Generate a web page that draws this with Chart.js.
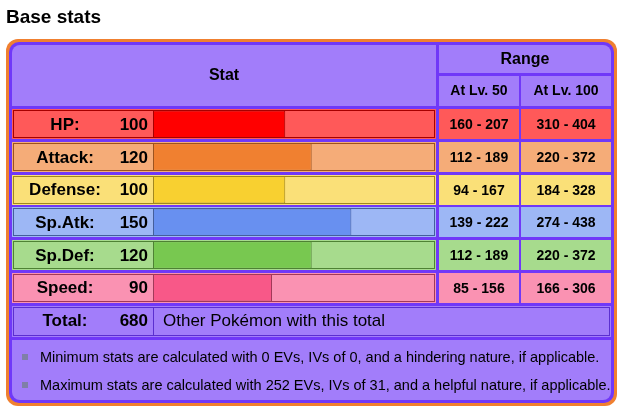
<!DOCTYPE html>
<html lang="en">
<head>
<meta charset="UTF-8">
<title>Base stats</title>
<style>
  html, body { margin: 0; padding: 0; background: #fff; }
  canvas { display: block; }
</style>
</head>
<body>
<canvas id="statChart" width="633" height="412"></canvas>

<script src="https://cdn.jsdelivr.net/npm/chart.js"></script>
<script>
const statNames = ['HP:', 'Attack:', 'Defense:', 'Sp.Atk:', 'Sp.Def:', 'Speed:'];
const statValues = [100, 120, 100, 150, 120, 90];
const lv50Ranges = ['160 - 207', '112 - 189', '94 - 167', '139 - 222', '112 - 189', '85 - 156'];
const lv100Ranges = ['310 - 404', '220 - 372', '184 - 328', '274 - 438', '220 - 372', '166 - 306'];
const totalValue = 680;
const notes = [
  'Minimum stats are calculated with 0 EVs, IVs of 0, and a hindering nature, if applicable.',
  'Maximum stats are calculated with 252 EVs, IVs of 31, and a helpful nature, if applicable.'
];

// colours
const barColors = ['#FF0000', '#F08030', '#F8D030', '#6890F0', '#78C850', '#F85888'];
const rowColors = ['#FF5959', '#F5AC78', '#FAE078', '#9DB7F5', '#A7DB8D', '#FA92B2'];
const darkColors = ['#A60000', '#9C531F', '#A1871F', '#445E9C', '#4E8234', '#A13959'];
const purple = '#A27DFA';
const purpleDark = '#7038F8';
const orange = '#F08030';
const FONT = '"Liberation Sans", Arial, Helvetica, sans-serif';

function txt(ctx, s, x, y, size, bold, align) {
  ctx.font = (bold ? 'bold ' : '') + size + 'px ' + FONT;
  ctx.textAlign = align || 'center';
  ctx.textBaseline = 'middle';
  ctx.fillStyle = '#000';
  ctx.fillText(s, x, y);
}

function box(ctx, x, y, w, h, fill, radii) {
  ctx.beginPath();
  ctx.roundRect(x, y, w, h, radii || 0);
  ctx.fillStyle = fill;
  ctx.fill();
}

const tablePlugin = {
  id: 'tablePlugin',
  beforeDraw(chart) {
    const ctx = chart.ctx;
    const yScale = chart.scales.y;
    ctx.save();

    txt(ctx, 'Base stats', 6, 18, 19, true, 'left');

    // frame
    box(ctx, 6, 39, 611, 367, orange, 12);
    box(ctx, 9, 42, 605, 361, purpleDark, 10);

    // header
    box(ctx, 12, 45, 424, 61, purple, [8, 0, 0, 0]);
    box(ctx, 439, 45, 172, 28, purple, [0, 8, 0, 0]);
    box(ctx, 439, 76, 80, 30, purple);
    box(ctx, 521, 76, 90, 30, purple);
    txt(ctx, 'Stat', 224, 76, 16, true);
    txt(ctx, 'Range', 525, 60, 16, true);
    txt(ctx, 'At Lv. 50', 479, 91, 14, true);
    txt(ctx, 'At Lv. 100', 566, 91, 14, true);

    // stat rows
    statNames.forEach((name, i) => {
      const cy = yScale.getPixelForValue(i);
      const top = Math.round(cy - 15);
      box(ctx, 12, top, 424, 30, rowColors[i]);
      ctx.strokeStyle = darkColors[i];
      ctx.lineWidth = 1;
      ctx.strokeRect(13.5, top + 1.5, 421, 27);
      box(ctx, 439, top, 80, 30, rowColors[i]);
      box(ctx, 521, top, 90, 30, rowColors[i]);
      txt(ctx, name, 65, cy + 1, 17, true);
      txt(ctx, String(statValues[i]), 148, cy + 1, 17, true, 'right');
      txt(ctx, lv50Ranges[i], 479, cy + 1, 14, true);
      txt(ctx, lv100Ranges[i], 566, cy + 1, 14, true);
    });

    // total row
    box(ctx, 12, 306, 599, 31, purple);
    ctx.strokeStyle = '#5B2FD0';
    ctx.lineWidth = 1;
    ctx.strokeRect(13.5, 307.5, 596, 28);
    ctx.beginPath();
    ctx.moveTo(153.5, 307.5);
    ctx.lineTo(153.5, 335.5);
    ctx.stroke();
    txt(ctx, 'Total:', 65, 321, 17, true);
    txt(ctx, String(totalValue), 148, 321, 17, true, 'right');
    txt(ctx, 'Other Pokémon with this total', 163, 321, 17, false, 'left');

    // notes
    box(ctx, 12, 340, 599, 60, purple, [0, 0, 8, 8]);
    notes.forEach((n, i) => {
      const y = 357 + i * 28;
      ctx.fillStyle = '#7F7FA8';
      ctx.fillRect(22, y - 3, 6, 6);
      txt(ctx, n, 40, y + 1, 14.5, false, 'left');
    });

    ctx.restore();
  }
};

new Chart(document.getElementById('statChart'), {
  type: 'bar',
  data: {
    labels: statNames,
    datasets: [{
      data: statValues,
      backgroundColor: barColors,
      borderColor: darkColors,
      borderWidth: 1,
      borderSkipped: false,
      barPercentage: 0.84,
      categoryPercentage: 1
    }]
  },
  options: {
    indexAxis: 'y',
    responsive: false,
    animation: false,
    layout: { padding: { left: 153, right: 197, top: 108, bottom: 108 } },
    scales: {
      x: { display: false, min: 0, max: 214 },
      y: { display: false }
    },
    plugins: { legend: { display: false }, tooltip: { enabled: false } }
  },
  plugins: [tablePlugin]
});
</script>
</body>
</html>
